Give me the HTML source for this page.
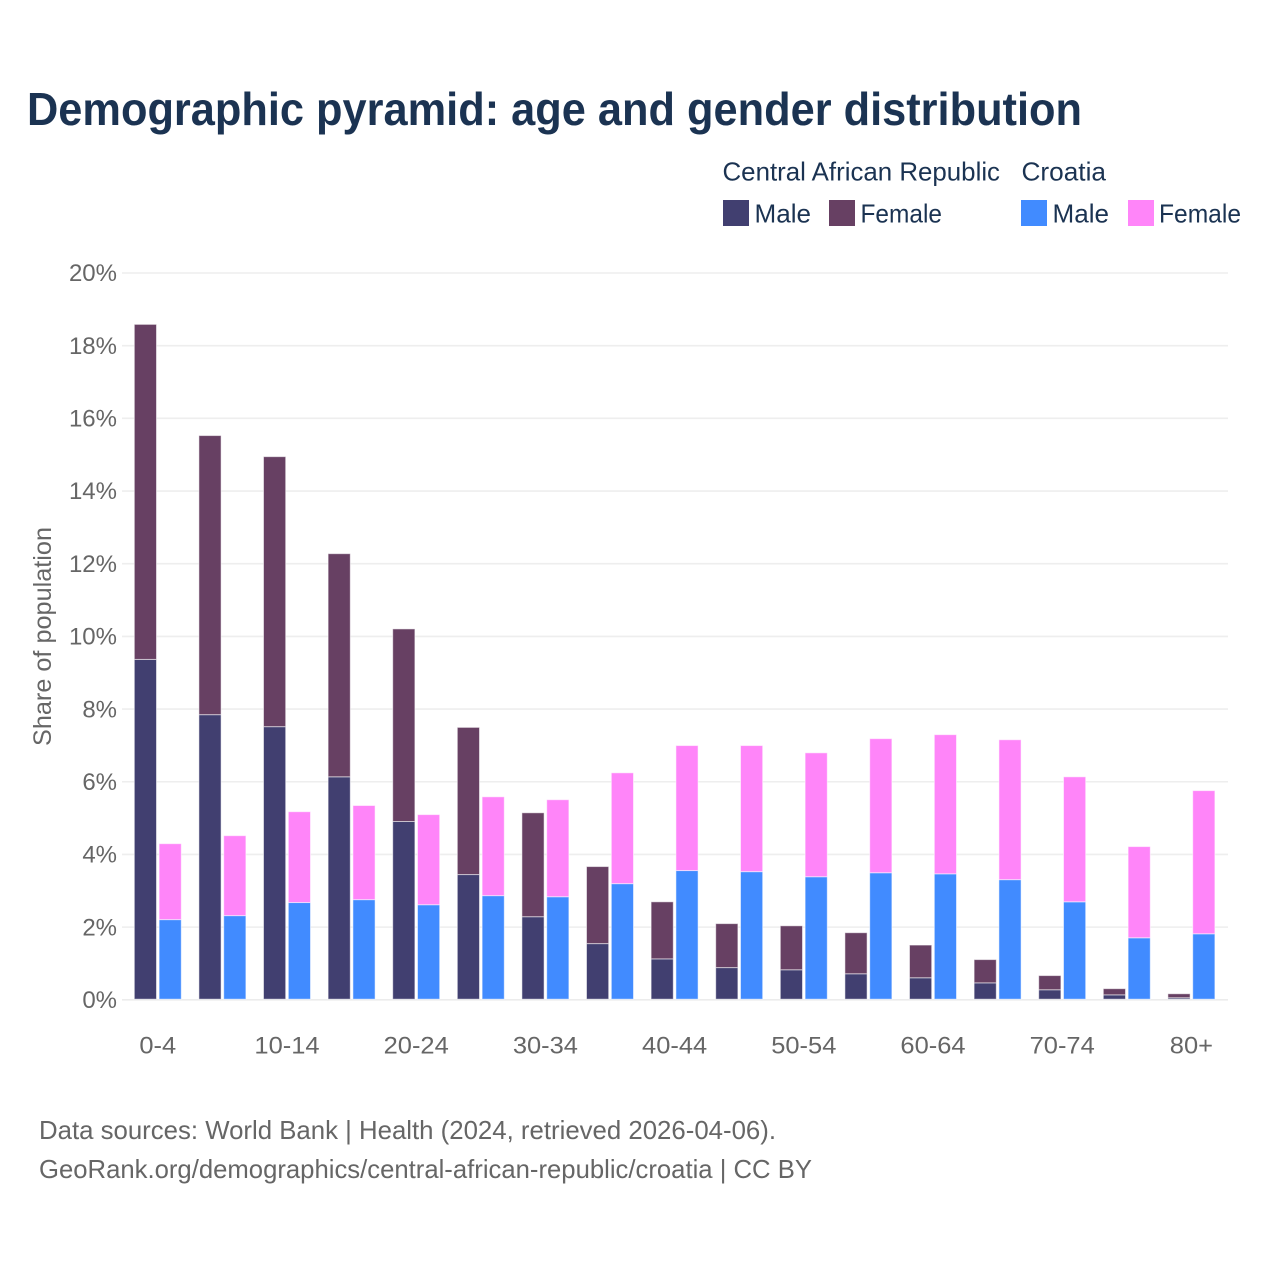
<!DOCTYPE html>
<html lang="en">
<head>
<meta charset="utf-8">
<title>Demographic pyramid: age and gender distribution</title>
<style>
html,body{margin:0;padding:0;background:#fff;}
svg{display:block;font-family:"Liberation Sans",sans-serif;}
</style>
</head>
<body>
<svg id="chart" xmlns="http://www.w3.org/2000/svg" width="1280" height="1280" viewBox="0 0 1280 1280">
  <rect x="0" y="0" width="1280" height="1280" fill="#ffffff"/>
  <text x="27" y="125" font-size="46" font-weight="700" fill="#1b3352" textLength="1055" lengthAdjust="spacingAndGlyphs">Demographic pyramid: age and gender distribution</text>

  <g font-size="26" fill="#1b3352">
    <text x="722.5" y="180.5" textLength="277.5" lengthAdjust="spacingAndGlyphs">Central African Republic</text>
    <text x="1021.5" y="180.5" textLength="84.5" lengthAdjust="spacingAndGlyphs">Croatia</text>
    <rect x="723" y="200" width="26" height="26" fill="#413f70"/>
    <text x="754.5" y="222.5" textLength="56.5" lengthAdjust="spacingAndGlyphs">Male</text>
    <rect x="829" y="200" width="26" height="26" fill="#674063"/>
    <text x="860.5" y="222.5" textLength="81.5" lengthAdjust="spacingAndGlyphs">Female</text>
    <rect x="1021" y="200" width="26" height="26" fill="#418bff"/>
    <text x="1052.5" y="222.5" textLength="56.5" lengthAdjust="spacingAndGlyphs">Male</text>
    <rect x="1128" y="200" width="26" height="26" fill="#ff85f9"/>
    <text x="1159" y="222.5" textLength="82" lengthAdjust="spacingAndGlyphs">Female</text>
  </g>

  <g id="grid"></g>
  <g id="bars"></g>
  <g id="yticks"></g>
  <g id="xticks"></g>

  <text transform="translate(51 746) rotate(-90)" x="0" y="0" font-size="25" fill="#666666" textLength="219" lengthAdjust="spacingAndGlyphs">Share of population</text>

  <text x="39" y="1139" font-size="26" fill="#666666" textLength="737" lengthAdjust="spacingAndGlyphs">Data sources: World Bank | Health (2024, retrieved 2026-04-06).</text>
  <text x="39" y="1178" font-size="26" fill="#666666" textLength="773" lengthAdjust="spacingAndGlyphs">GeoRank.org/demographics/central-african-republic/croatia | CC BY</text>
</svg>
<script>
const categories = ['0-4','5-9','10-14','15-19','20-24','25-29','30-34','35-39','40-44','45-49','50-54','55-59','60-64','65-69','70-74','75-79','80+'];
const carMale = [9.35,7.83,7.50,6.12,4.89,3.43,2.27,1.53,1.11,0.87,0.81,0.70,0.59,0.45,0.26,0.12,0.04];
const carFemale = [9.22,7.68,7.43,6.14,5.30,4.05,2.86,2.12,1.57,1.21,1.21,1.13,0.90,0.64,0.39,0.17,0.11];
const croatiaMale = [2.19,2.30,2.66,2.74,2.60,2.85,2.82,3.18,3.54,3.51,3.37,3.48,3.45,3.29,2.68,1.69,1.80];
const croatiaFemale = [2.09,2.20,2.50,2.59,2.48,2.72,2.67,3.05,3.44,3.47,3.41,3.69,3.83,3.85,3.44,2.51,3.94];
const yTicks = [0,2,4,6,8,10,12,14,16,18,20];
const xTickLabels = ['0-4','10-14','20-24','30-34','40-44','50-54','60-64','70-74','80+'];

const NS = 'http://www.w3.org/2000/svg';
const plot = {left: 122, right: 1228, zeroY: 999.8, barZeroY: 999.2, pxPerUnit: 36.34, firstCenter: 157.8, step: 64.6, barW: 22.2, barGap: 2.6};
const COLORS = {carMale: '#413f70', carFemale: '#674063', croatiaMale: '#418bff', croatiaFemale: '#ff85f9'};

function yScale(v) { return plot.zeroY - v * plot.pxPerUnit; }
function yBar(v) { return plot.barZeroY - v * plot.pxPerUnit; }
function xCenter(i) { return plot.firstCenter + plot.step * i; }
function xCar(i) { return xCenter(i) - plot.barGap / 2 - plot.barW; }
function xCroatia(i) { return xCenter(i) + plot.barGap / 2; }

function makeSegment(x, base, value, color) {
  const r = document.createElementNS(NS, 'rect');
  r.setAttribute('x', x);
  r.setAttribute('y', yBar(base + value));
  r.setAttribute('width', plot.barW);
  r.setAttribute('height', yBar(base) - yBar(base + value));
  r.setAttribute('fill', color);
  r.setAttribute('stroke', 'rgba(255,255,255,0.55)');
  r.setAttribute('stroke-width', '1');
  return r;
}

const gridG = document.getElementById('grid');
const yG = document.getElementById('yticks');
yTicks.forEach(function (t) {
  const line = document.createElementNS(NS, 'line');
  
  
  line.setAttribute('x1', plot.left);
  line.setAttribute('x2', plot.right);
  line.setAttribute('y1', yScale(t));
  line.setAttribute('y2', yScale(t));
  line.setAttribute('stroke', t === 0 ? '#ececec' : '#eeeeee');
  line.setAttribute('stroke-width', '1.6');
  gridG.appendChild(line);

  const label = document.createElementNS(NS, 'text');
  
  
  label.setAttribute('x', 117);
  label.setAttribute('y', yScale(t) + 8.2);
  label.setAttribute('text-anchor', 'end');
  label.setAttribute('font-size', '24');
  label.setAttribute('fill', '#666666');
  label.textContent = t + '%';
  yG.appendChild(label);
});

const barsG = document.getElementById('bars');
categories.forEach(function (cat, i) {
  const a = makeSegment(xCar(i), 0, carMale[i], COLORS.carMale);
  
  
  barsG.appendChild(a);

  const b = makeSegment(xCar(i), carMale[i], carFemale[i], COLORS.carFemale);
  
  
  barsG.appendChild(b);

  const c = makeSegment(xCroatia(i), 0, croatiaMale[i], COLORS.croatiaMale);
  
  
  barsG.appendChild(c);

  const d = makeSegment(xCroatia(i), croatiaMale[i], croatiaFemale[i], COLORS.croatiaFemale);
  
  
  barsG.appendChild(d);
});

const xG = document.getElementById('xticks');
xTickLabels.forEach(function (name) {
  const label = document.createElementNS(NS, 'text');
  
  
  label.setAttribute('x', xCenter(categories.indexOf(name)));
  label.setAttribute('y', 1053.5);
  label.setAttribute('text-anchor', 'middle');
  label.setAttribute('font-size', '24');
  label.setAttribute('fill', '#666666');
  label.textContent = name;
  xG.appendChild(label);
  label.setAttribute('textLength', (label.getComputedTextLength() * 1.06).toFixed(1));
  label.setAttribute('lengthAdjust', 'spacingAndGlyphs');
});
</script>
</body>
</html>
